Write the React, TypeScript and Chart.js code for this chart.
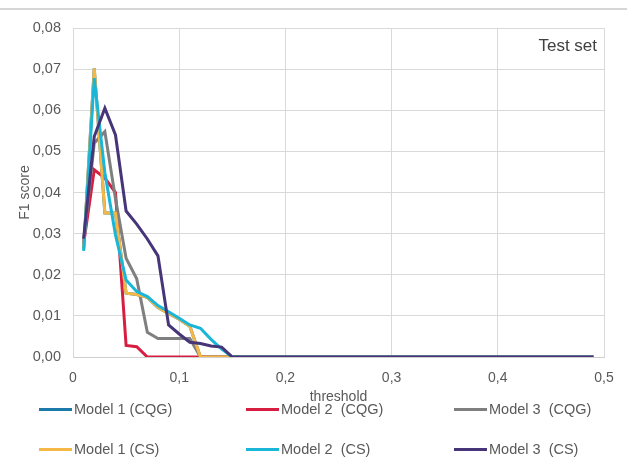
import React, { useEffect, useRef } from "react";
import { Chart, registerables } from "chart.js";

Chart.register(...registerables);

const thresholds = [
  0.01, 0.02, 0.03, 0.04, 0.05, 0.06, 0.07, 0.08, 0.09, 0.1,
  0.11, 0.12, 0.13, 0.14, 0.15, 0.16, 0.17, 0.18, 0.19, 0.2,
  0.21, 0.22, 0.23, 0.24, 0.25, 0.26, 0.27, 0.28, 0.29, 0.3,
  0.31, 0.32, 0.33, 0.34, 0.35, 0.36, 0.37, 0.38, 0.39, 0.4,
  0.41, 0.42, 0.43, 0.44, 0.45, 0.46, 0.47, 0.48, 0.49,
];

const seriesLabels = [
  "Model 1 (CQG)",
  "Model 2  (CQG)",
  "Model 3  (CQG)",
  "Model 1 (CS)",
  "Model 2  (CS)",
  "Model 3  (CS)",
];

const seriesColors = ["#1b7aa9", "#d81e40", "#7f7f7f", "#f5b847", "#1ab6d8", "#463578"];

const model1CQG = [
  0.0262, 0.0702, 0.035, 0.035, 0.0155, 0.0152, 0.0145, 0.012, 0.0106, 0.0092,
  0.0075, 0, 0, 0, 0,
  0, 0, 0, 0, 0, 0, 0, 0, 0, 0,
  0, 0, 0, 0, 0, 0, 0, 0, 0, 0,
  0, 0, 0, 0, 0, 0, 0, 0, 0, 0,
  0, 0, 0, 0,
];
const model2CQG = [
  0.0275, 0.0455, 0.0435, 0.04, 0.0028, 0.0025, 0, 0, 0, 0,
  0, 0, 0, 0, 0,
  0, 0, 0, 0, 0, 0, 0, 0, 0, 0,
  0, 0, 0, 0, 0, 0, 0, 0, 0, 0,
  0, 0, 0, 0, 0, 0, 0, 0, 0, 0,
  0, 0, 0, 0,
];
const model3CQG = [
  0.028, 0.052, 0.0548, 0.0385, 0.024, 0.019, 0.006, 0.0045, 0.0045, 0.0045,
  0.0045, 0, 0, 0, 0,
  0, 0, 0, 0, 0, 0, 0, 0, 0, 0,
  0, 0, 0, 0, 0, 0, 0, 0, 0, 0,
  0, 0, 0, 0, 0, 0, 0, 0, 0, 0,
  0, 0, 0, 0,
];
const model1CS = [
  0.0262, 0.0702, 0.035, 0.035, 0.0155, 0.0152, 0.0145, 0.012, 0.0106, 0.0092,
  0.0075, 0, 0, 0, 0,
  0, 0, 0, 0, 0, 0, 0, 0, 0, 0,
  0, 0, 0, 0, 0, 0, 0, 0, 0, 0,
  0, 0, 0, 0, 0, 0, 0, 0, 0, 0,
  0, 0, 0, 0,
];
const model2CS = [
  0.0258, 0.0678, 0.0448, 0.0297, 0.0187, 0.0159, 0.0147, 0.0125, 0.011, 0.0094,
  0.0078, 0.007, 0.0043, 0.0019, 0,
  0, 0, 0, 0, 0, 0, 0, 0, 0, 0,
  0, 0, 0, 0, 0, 0, 0, 0, 0, 0,
  0, 0, 0, 0, 0, 0, 0, 0, 0, 0,
  0, 0, 0, 0,
];
const model3CS = [
  0.0288, 0.0536, 0.0605, 0.054, 0.0355, 0.0323, 0.0287, 0.0246, 0.0078, 0.0056,
  0.0036, 0.0033, 0.0027, 0.0024, 0,
  0, 0, 0, 0, 0, 0, 0, 0, 0, 0,
  0, 0, 0, 0, 0, 0, 0, 0, 0, 0,
  0, 0, 0, 0, 0, 0, 0, 0, 0, 0,
  0, 0, 0, 0,
];

const seriesValues = [model1CQG, model2CQG, model3CQG, model1CS, model2CS, model3CS];

const FONT = '"Liberation Sans", Arial, sans-serif';
const TEXT = "#595959";

const testSetLabel = {
  id: "testSetLabel",
  afterDraw(chart: any) {
    const { ctx, chartArea } = chart;
    ctx.save();
    ctx.font = `17px ${FONT}`;
    ctx.fillStyle = "#404040";
    ctx.textAlign = "right";
    ctx.textBaseline = "middle";
    ctx.fillText("Test set", chartArea.right - 7, chartArea.top + 18);
    ctx.restore();
  },
};

const legendCols = [39, 246, 454];
const legendRows = [409, 449];

export default function App() {
  const ref = useRef<HTMLCanvasElement | null>(null);

  useEffect(() => {
    if (!ref.current) return;
    const chart = new Chart(ref.current, {
      type: "line",
      data: {
        datasets: seriesLabels.map((label, i) => ({
          label,
          data: thresholds.map((t, j) => ({ x: t, y: seriesValues[i][j] })),
          borderColor: seriesColors[i],
          backgroundColor: seriesColors[i],
          borderWidth: 3,
          pointRadius: 0,
          tension: 0,
          order: seriesLabels.length - 1 - i,
        })),
      },
      plugins: [testSetLabel],
      options: {
        animation: false,
        responsive: false,
        maintainAspectRatio: false,
        layout: { padding: { left: 13, top: 28, right: 23, bottom: 67 } },
        plugins: {
          legend: { display: false },
          tooltip: { enabled: false },
        },
        scales: {
          x: {
            type: "linear",
            min: 0,
            max: 0.5,
            ticks: {
              stepSize: 0.1,
              color: TEXT,
              font: { family: FONT, size: 14 },
              padding: 13,
              callback: (v: any) => (Number(v) === 0 ? "0" : Number(v).toFixed(1).replace(".", ",")),
            },
            grid: { color: "#d9d9d9", drawTicks: false },
            border: { color: "#cfcfcf" },
            title: {
              display: true,
              text: "threshold",
              color: TEXT,
              font: { family: FONT, size: 14 },
              padding: { top: 0, bottom: 1 },
            },
            afterFit: (s: any) => {
              s.height = 50;
            },
          },
          y: {
            min: 0,
            max: 0.08,
            ticks: {
              stepSize: 0.01,
              color: TEXT,
              font: { family: FONT, size: 14.5 },
              padding: 12,
              callback: (v: any) => Number(v).toFixed(2).replace(".", ","),
            },
            grid: { color: "#d9d9d9", drawTicks: false },
            border: { color: "#d9d9d9" },
            title: {
              display: true,
              text: "F1 score",
              color: TEXT,
              font: { family: FONT, size: 14 },
              padding: { top: 4, bottom: 4 },
            },
            afterFit: (s: any) => {
              s.width = 60;
            },
          },
        },
      },
    });
    return () => chart.destroy();
  }, []);

  return (
    <div style={{ position: "absolute", left: 0, top: 0, width: 627, height: 474, background: "#fff", overflow: "hidden" }}>
      <div style={{ position: "absolute", left: 0, top: 8, width: 627, height: 2, background: "#d6d6d6" }} />
      <canvas ref={ref} width={627} height={474} style={{ position: "absolute", left: 0, top: 0, width: 627, height: 474 }} />
      {seriesLabels.map((label, i) => (
        <div
          key={label}
          style={{
            position: "absolute",
            left: legendCols[i % 3],
            top: legendRows[Math.floor(i / 3)] - 9,
            height: 18,
            display: "flex",
            alignItems: "center",
            fontFamily: FONT,
            fontSize: 14.5,
            color: TEXT,
            whiteSpace: "pre",
          }}
        >
          <span style={{ display: "inline-block", width: 33, height: 3, background: seriesColors[i], marginRight: 2 }} />
          <span>{label}</span>
        </div>
      ))}
    </div>
  );
}
